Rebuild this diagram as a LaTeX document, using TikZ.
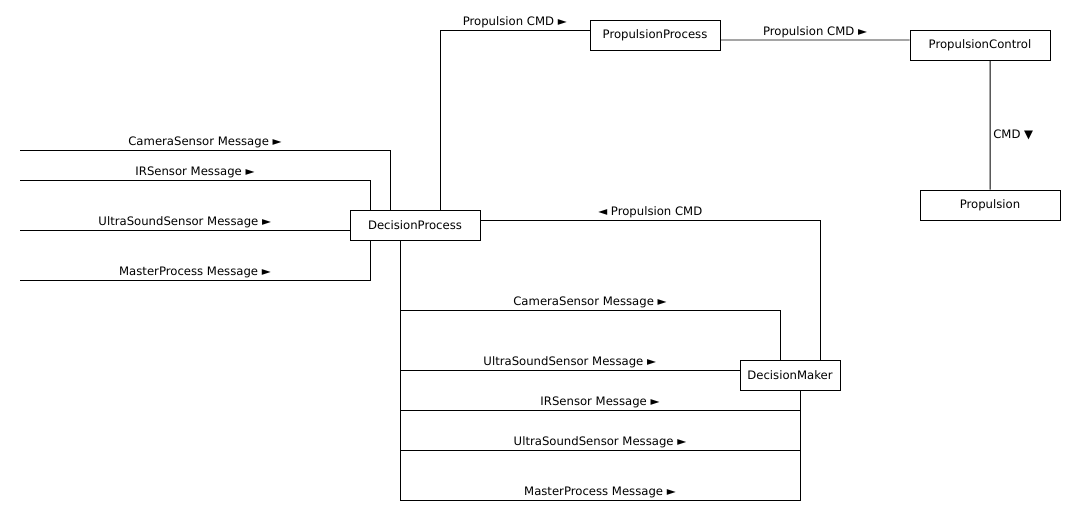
\documentclass[tikz,border=0pt]{standalone}
\usepackage{fontspec}
\setmainfont{DejaVu Sans}
\usepackage{xcolor}
\definecolor{smink}{HTML}{000000}
\definecolor{smbg}{HTML}{FFFFFF}
\usepackage{tikz}
\usetikzlibrary{positioning,calc}
\tikzset{
  smbox/.style ={rectangle, draw=smink, fill=white, line width=0.7pt,
                 minimum height=0.75cm, inner sep=2pt, text=smink,
                 font=\fontsize{8.3}{10}\selectfont},
  smlink/.style={line width=0.7pt, draw=smink},
  smlbl/.style ={font=\fontsize{8.3}{10}\selectfont, text=smink, inner sep=0.8pt},
}

\begin{document}
\begin{tikzpicture}
  \fill[smbg] (0,0) rectangle (26.75,13.25);
  \useasboundingbox (0,0) rectangle (26.75,13.25);
  % blocks
  \node[smbox, minimum width=3.25cm] (dp)   at (10.375,7.625) {DecisionProcess};
  \node[smbox, minimum width=3.25cm] (pp)   at (16.375,12.375) {PropulsionProcess};
  \node[smbox, minimum width=3.5cm]  (pc)   at (24.5,12.125) {PropulsionControl};
  \node[smbox, minimum width=3.5cm]  (prop) at (24.75,8.125) {Propulsion};
  \node[smbox, minimum width=2.5cm]  (dm)   at (19.75,3.875) {DecisionMaker};
  % free ends on the left
  \coordinate (camin) at (0.5,9.5);
  \coordinate (irin)  at (0.5,8.75);
  \coordinate (usin)  at (0.5,7.5);
  \coordinate (mpin)  at (0.5,6.25);
  \draw[smlink] (camin) -| ([xshift=-0.625cm]dp.north)
       node[pos=0.25, above, smlbl] {CameraSensor Message ►};
  \draw[smlink] (irin) -| ([xshift=-1.125cm]dp.north)
       node[pos=0.25, above, smlbl] {IRSensor Message ►};
  \draw[smlink] (usin) -- (usin -| dp.west)
       node[midway, above, smlbl] {UltraSoundSensor Message ►};
  \draw[smlink] (mpin) -| ([xshift=-1.125cm]dp.south)
       node[pos=0.25, above, smlbl] {MasterProcess Message ►};
  % propulsion chain
  \draw[smlink] ([xshift=0.625cm]dp.north) |- ([yshift=0.125cm]pp.west)
       node[pos=0.75, above, smlbl] {Propulsion CMD ►};
  \draw[smlink] ([yshift=-0.125cm]pp.east) -- ([yshift=0.125cm]pc.west)
       node[midway, above, smlbl] {Propulsion CMD ►};
  \draw[smlink] ([xshift=0.25cm]pc.south) -- (prop.north)
       node[pos=0.58, right, smlbl, inner sep=2pt] {CMD ▼};
  \draw[smlink] ([yshift=0.125cm]dp.east) -| ([xshift=0.75cm]dm.north)
       node[pos=0.25, above, smlbl] {◄ Propulsion CMD};
  % decision process to decision maker
  \coordinate (dps) at ([xshift=-0.375cm]dp.south);
  \draw[smlink] (dps) -- (dps |- 0,5.5) -| ([xshift=-0.25cm]dm.north)
       node[pos=0.25, above, smlbl] {CameraSensor Message ►};
  \draw[smlink] (dps) |- ([yshift=0.125cm]dm.west)
       node[pos=0.75, above, smlbl] {UltraSoundSensor Message ►};
  \draw[smlink] (dps) -- (dps |- 0,3) -| ([xshift=0.25cm]dm.south)
       node[pos=0.25, above, smlbl] {IRSensor Message ►};
  \draw[smlink] (dps) -- (dps |- 0,2) -| ([xshift=0.25cm]dm.south)
       node[pos=0.25, above, smlbl] {UltraSoundSensor Message ►};
  \draw[smlink] (dps) -- (dps |- 0,0.75) -| ([xshift=0.25cm]dm.south)
       node[pos=0.25, above, smlbl] {MasterProcess Message ►};
\end{tikzpicture}
\end{document}
